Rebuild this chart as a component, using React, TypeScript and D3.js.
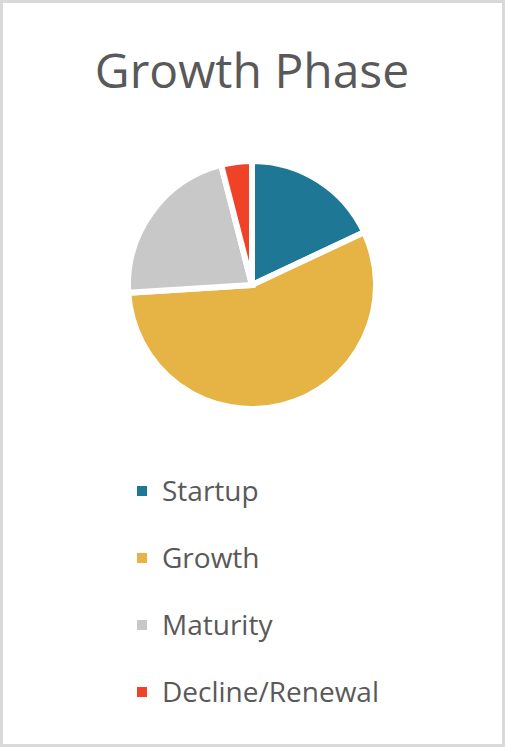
import React, { useEffect, useRef } from "react";
import * as d3 from "d3";

const phases = ["Startup", "Growth", "Maturity", "Decline/Renewal"];
const shares = [18, 56, 22, 4];
const phaseColors = ["#1d7795", "#e6b345", "#c8c8c8", "#f04226"];

const title = "Growth Phase";

const App: React.FC = () => {
  const svgRef = useRef<SVGSVGElement | null>(null);

  useEffect(() => {
    const width = 505;
    const height = 747;

    const svg = d3.select(svgRef.current);
    svg.selectAll("*").remove();
    svg.attr("width", width).attr("height", height);

    // chart area with light border
    svg.append("rect")
      .attr("x", 1.5)
      .attr("y", 1.5)
      .attr("width", width - 3)
      .attr("height", height - 3)
      .attr("fill", "#fff")
      .attr("stroke", "#d9d9d9")
      .attr("stroke-width", 3);

    svg.append("text")
      .attr("x", 252)
      .attr("y", 88)
      .attr("text-anchor", "middle")
      .style("font-family", "'Open Sans', sans-serif")
      .style("font-size", "48px")
      .style("fill", "#595959")
      .text(title);

    const data = phases.map((p, i) => ({ phase: p, value: shares[i], color: phaseColors[i] }));

    const pie = d3.pie<{ phase: string; value: number; color: string }>()
      .sort(null)
      .value(d => d.value);

    const radius = 124;
    const arc = d3.arc<d3.PieArcDatum<{ phase: string; value: number; color: string }>>()
      .innerRadius(0)
      .outerRadius(radius);

    const g = svg.append("g")
      .attr("transform", "translate(252, 285)");

    g.selectAll("path")
      .data(pie(data))
      .join("path")
      .attr("d", arc)
      .attr("fill", d => d.data.color)
      .attr("stroke", "#fff")
      .attr("stroke-width", 6)
      .attr("stroke-linejoin", "miter");

    // legend
    const y = d3.scalePoint<string>()
      .domain(phases)
      .range([491, 692]);

    const legend = svg.append("g");
    const rows = legend.selectAll("g")
      .data(data)
      .join("g")
      .attr("transform", d => `translate(137, ${y(d.phase)})`);

    rows.append("rect")
      .attr("x", 0)
      .attr("y", -5)
      .attr("width", 10)
      .attr("height", 10)
      .attr("fill", d => d.color);

    rows.append("text")
      .attr("x", 25)
      .attr("y", 10)
      .style("font-family", "'Open Sans', sans-serif")
      .style("font-size", "28px")
      .style("fill", "#595959")
      .text(d => d.phase);
  }, []);

  return (
    <div style={{ position: "absolute", left: 0, top: 0 }}>
      <svg ref={svgRef} style={{ display: "block" }}></svg>
    </div>
  );
};

export default App;
